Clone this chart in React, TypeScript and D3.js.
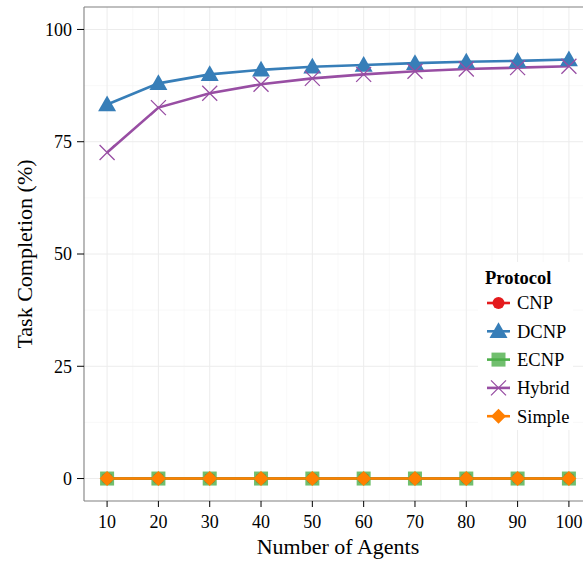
import * as d3 from 'd3';
import { useEffect, useRef } from 'react';

const agents = [10, 20, 30, 40, 50, 60, 70, 80, 90, 100];
const protocols = ['CNP', 'DCNP', 'ECNP', 'Hybrid', 'Simple'];
const cnp = [0, 0, 0, 0, 0, 0, 0, 0, 0, 0];
const dcnp = [83.3, 88.0, 90.0, 91.0, 91.7, 92.1, 92.5, 92.8, 93.0, 93.3];
const ecnp = [0, 0, 0, 0, 0, 0, 0, 0, 0, 0];
const hybrid = [72.6, 82.6, 85.8, 87.8, 89.1, 90.0, 90.7, 91.2, 91.5, 91.8];
const simple = [0, 0, 0, 0, 0, 0, 0, 0, 0, 0];
const yTicks = [0, 25, 50, 75, 100];

const seriesValues = [cnp, dcnp, ecnp, hybrid, simple];
const colors = ['#E41A1C', '#377EB8', '#4DAF4A', '#984EA3', '#FF7F00'];
const shapes = ['circle', 'triangle', 'square', 'cross', 'diamond'];

const W = 583;
const H = 562;
const margin = { top: 7, left: 84, right: -9, bottom: 61 };

const drawMarker = (g, shape, x, y, color) => {
  if (shape === 'circle') {
    g.append('circle').attr('cx', x).attr('cy', y).attr('r', 6).style('fill', color);
  } else if (shape === 'triangle') {
    const s = 9;
    g.append('path')
      .attr('d', `M${x},${y - s}L${x + s},${y + s * 0.75}L${x - s},${y + s * 0.75}Z`)
      .style('fill', color);
  } else if (shape === 'square') {
    g.append('rect')
      .attr('x', x - 7).attr('y', y - 7).attr('width', 14).attr('height', 14)
      .style('fill', color).style('opacity', 0.8);
  } else if (shape === 'cross') {
    const s = 7.5;
    g.append('path')
      .attr('d', `M${x - s},${y - s}L${x + s},${y + s}M${x - s},${y + s}L${x + s},${y - s}`)
      .style('stroke', color).style('stroke-width', 1.3).style('fill', 'none');
  } else {
    const s = 7.5;
    g.append('path')
      .attr('d', `M${x},${y - s}L${x + s},${y}L${x},${y + s}L${x - s},${y}Z`)
      .style('fill', color);
  }
};

const App = () => {
  const ref = useRef(null);

  useEffect(() => {
    const svg = d3.select(ref.current);
    svg.selectAll('*').remove();
    const font = '"Liberation Serif", "Times New Roman", serif';

    const x = d3.scaleLinear().domain([5.5, 104.5]).range([margin.left, W - margin.right]);
    const y = d3.scaleLinear().domain([-5, 105]).range([H - margin.bottom, margin.top]);
    const x0 = margin.left;
    const x1 = W;
    const yb = H - margin.bottom;

    svg.append('rect').attr('width', W).attr('height', H).style('fill', '#fff');

    const grid = svg.append('g');
    const minorX = d3.range(15, 100, 10);
    const minorY = [12.5, 37.5, 62.5, 87.5];
    minorX.forEach((v) =>
      grid.append('line').attr('x1', x(v)).attr('x2', x(v)).attr('y1', yb).attr('y2', margin.top)
        .style('stroke', '#f5f5f5').style('stroke-width', 0.6));
    minorY.forEach((v) =>
      grid.append('line').attr('x1', x0).attr('x2', x1).attr('y1', y(v)).attr('y2', y(v))
        .style('stroke', '#f5f5f5').style('stroke-width', 0.6));
    agents.forEach((v) =>
      grid.append('line').attr('x1', x(v)).attr('x2', x(v)).attr('y1', yb).attr('y2', margin.top)
        .style('stroke', '#ececec').style('stroke-width', 1));
    yTicks.forEach((v) =>
      grid.append('line').attr('x1', x0).attr('x2', x1).attr('y1', y(v)).attr('y2', y(v))
        .style('stroke', '#ececec').style('stroke-width', 1));

    const line = d3.line().x((d) => x(d[0])).y((d) => y(d[1]));
    seriesValues.forEach((vals, i) => {
      svg.append('path')
        .datum(agents.map((a, j) => [a, vals[j]]))
        .attr('d', line)
        .style('fill', 'none')
        .style('stroke', colors[i])
        .style('stroke-width', 2.6);
    });
    seriesValues.forEach((vals, i) => {
      const g = svg.append('g');
      agents.forEach((a, j) => drawMarker(g, shapes[i], x(a), y(vals[j]), colors[i]));
    });

    // panel border: top, left, bottom (the right side falls outside the image)
    [[x0, margin.top, x1, margin.top], [x0, margin.top, x0, yb], [x0, yb, x1, yb]].forEach(([a, b, c, d]) =>
      svg.append('line').attr('x1', a).attr('y1', b).attr('x2', c).attr('y2', d)
        .style('stroke', '#808080').style('stroke-width', 1.1));

    const yAxis = svg.append('g');
    yTicks.forEach((v) => {
      yAxis.append('line').attr('x1', x0 - 7).attr('x2', x0).attr('y1', y(v)).attr('y2', y(v))
        .style('stroke', '#000').style('stroke-width', 1);
      yAxis.append('text').attr('x', x0 - 12).attr('y', y(v)).attr('dy', '0.35em')
        .attr('text-anchor', 'end').style('font-family', font).style('font-size', '18px').text(v);
    });
    const xAxis = svg.append('g');
    agents.forEach((v) => {
      xAxis.append('line').attr('x1', x(v)).attr('x2', x(v)).attr('y1', yb).attr('y2', yb + 6)
        .style('stroke', '#000').style('stroke-width', 1);
      xAxis.append('text').attr('x', x(v)).attr('y', yb + 27)
        .attr('text-anchor', 'middle').style('font-family', font).style('font-size', '18px').text(v);
    });

    svg.append('text')
      .attr('x', (x0 + W - margin.right) / 2).attr('y', 554)
      .attr('text-anchor', 'middle').style('font-family', font).style('font-size', '22px')
      .text('Number of Agents');
    svg.append('text')
      .attr('transform', `translate(32, ${(margin.top + yb) / 2}) rotate(-90)`)
      .attr('text-anchor', 'middle').style('font-family', font).style('font-size', '22px')
      .text('Task Completion (%)');

    // legend
    const lg = svg.append('g').attr('transform', 'translate(478, 262)');
    lg.append('rect').attr('width', 95).attr('height', 168).style('fill', '#fff');
    lg.append('text').attr('x', 7).attr('y', 22).style('font-family', font)
      .style('font-size', '18.5px').style('font-weight', 'bold').text('Protocol');
    protocols.forEach((p, i) => {
      const cy = 41 + i * 28.3;
      lg.append('line').attr('x1', 9).attr('x2', 32).attr('y1', cy).attr('y2', cy)
        .style('stroke', colors[i]).style('stroke-width', 2.6);
      drawMarker(lg, shapes[i], 20.5, cy, colors[i]);
      lg.append('text').attr('x', 39).attr('y', cy).attr('dy', '0.35em')
        .style('font-family', font).style('font-size', '18.5px').text(p);
    });
  }, []);

  return <svg ref={ref} width={W} height={H} style={{ display: 'block', position: 'absolute', left: 0, top: 0 }} />;
};

export default App;
